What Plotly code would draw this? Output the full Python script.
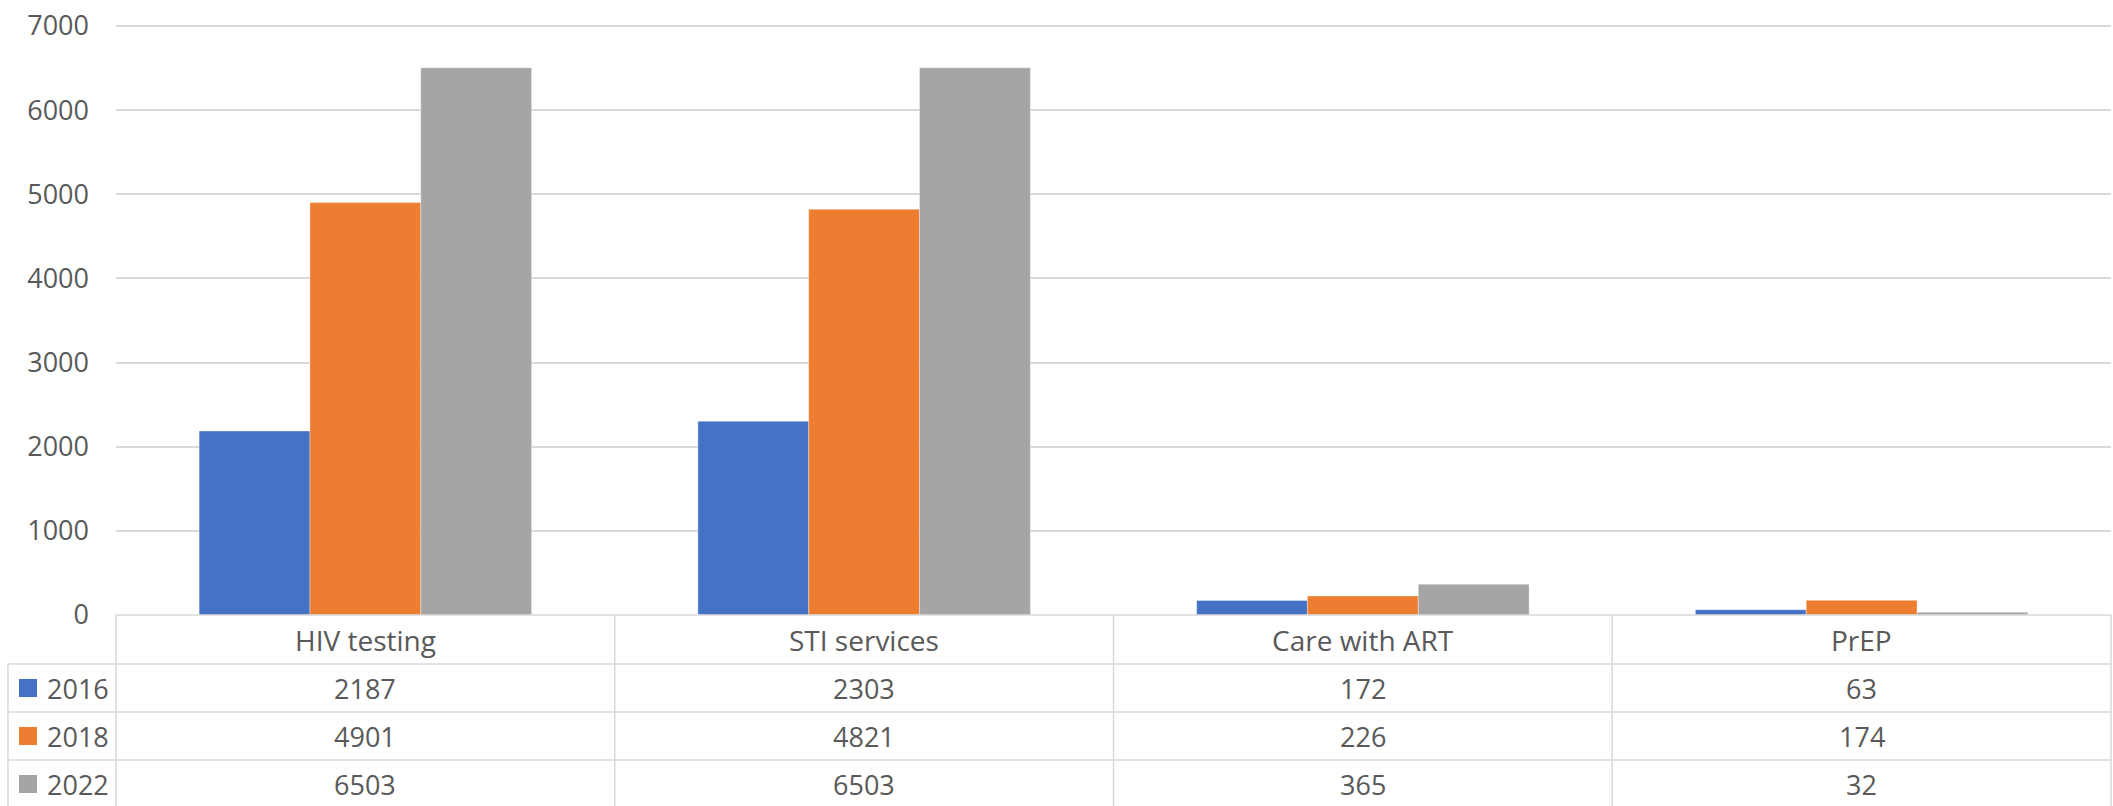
import plotly.graph_objects as go

categories = ["HIV testing", "STI services", "Care with ART", "PrEP"]
years = ["2016", "2018", "2022"]
values_2016 = [2187, 2303, 172, 63]
values_2018 = [4901, 4821, 226, 174]
values_2022 = [6503, 6503, 365, 32]
series = [values_2016, values_2018, values_2022]
colors = ["#4472C4", "#ED7D31", "#A5A5A5"]
y_ticks = [0, 1000, 2000, 3000, 4000, 5000, 6000, 7000]

W, H = 2113, 806
PLOT_L, PLOT_R, PLOT_T, PLOT_B = 116, 2111, 24, 615
L = PLOT_L
T = PLOT_T
PW = PLOT_R - PLOT_L
PH = PLOT_B - PLOT_T
R = W - L - PW
B = H - T - PH
Y_MAX = 7000 * (PLOT_B - PLOT_T) / (PLOT_B - 26)  # 7000 gridline sits at y=26

def px(X):
    return (X - PLOT_L) / PW

def py(Y):
    return (PLOT_B - Y) / PH

FONT = "Open Sans"
TXT = "#595959"
GRID = "#D9D9D9"
FS = 27

fig = go.Figure()
for name, vals, col in zip(years, series, colors):
    fig.add_trace(go.Bar(
        x=categories, y=vals, name=name,
        marker=dict(color=col, line=dict(color="rgba(255,255,255,0.35)", width=1)),
        showlegend=False,
    ))

shapes = []
annotations = []

row_edges = [PLOT_B, 664, 712, 760, 812]
leg_left = 8
col_edges = [PLOT_L + i * PW / len(categories) for i in range(len(categories) + 1)]

line = dict(color=GRID, width=1.5)
shapes.append(dict(type="line", xref="paper", yref="paper", x0=px(col_edges[0]), x1=px(col_edges[-1]),
                   y0=py(row_edges[0]), y1=py(row_edges[0]), line=line))
for yy in row_edges[1:4]:
    shapes.append(dict(type="line", xref="paper", yref="paper", x0=px(leg_left), x1=px(col_edges[-1]),
                       y0=py(yy), y1=py(yy), line=line))
for xx in col_edges:
    shapes.append(dict(type="line", xref="paper", yref="paper", x0=px(xx), x1=px(xx),
                       y0=py(row_edges[0]), y1=py(row_edges[-1]), line=line))
shapes.append(dict(type="line", xref="paper", yref="paper", x0=px(leg_left), x1=px(leg_left),
                   y0=py(row_edges[1]), y1=py(row_edges[-1]), line=line))

for i, c in enumerate(categories):
    xc = (col_edges[i] + col_edges[i + 1]) / 2
    annotations.append(dict(text=c, xref="paper", yref="paper", x=px(xc),
                            y=py((row_edges[0] + row_edges[1]) / 2), xanchor="center", yanchor="middle",
                            showarrow=False, font=dict(family=FONT, size=28, color=TXT)))

row_centers = [688, 736, 784]
for r, (name, vals, col) in enumerate(zip(years, series, colors)):
    yc = row_centers[r]
    shapes.append(dict(type="rect", xref="paper", yref="paper", x0=px(19), x1=px(37),
                       y0=py(yc - 9), y1=py(yc + 9), fillcolor=col, line=dict(width=0)))
    annotations.append(dict(text=name, xref="paper", yref="paper", x=px(45), y=py(yc),
                            xanchor="left", yanchor="middle", showarrow=False,
                            font=dict(family=FONT, size=FS, color=TXT)))
    for i, v in enumerate(vals):
        xc = (col_edges[i] + col_edges[i + 1]) / 2
        annotations.append(dict(text=str(v), xref="paper", yref="paper", x=px(xc), y=py(yc),
                                xanchor="center", yanchor="middle", showarrow=False,
                                font=dict(family=FONT, size=FS, color=TXT)))

fig.update_layout(
    width=W, height=H,
    margin=dict(l=L, r=R, t=T, b=B, pad=0),
    paper_bgcolor="white", plot_bgcolor="white",
    barmode="group", bargap=1/3, bargroupgap=0,
    shapes=shapes, annotations=annotations,
    xaxis=dict(showticklabels=False, showgrid=False, zeroline=False, showline=False, ticks="",
               automargin=False),
    yaxis=dict(range=[0, Y_MAX], tickvals=y_ticks, ticktext=[str(t) for t in y_ticks],
               showgrid=True, gridcolor=GRID, gridwidth=1.5, zeroline=False, showline=False,
               ticks="", ticklabelstandoff=26, automargin=False,
               tickfont=dict(family=FONT, size=FS, color=TXT)),
    font=dict(family=FONT, color=TXT),
)

fig.write_html("out.html", config={"displayModeBar": False},
               post_script="document.body.style.margin='0';document.body.style.overflow='hidden';")
